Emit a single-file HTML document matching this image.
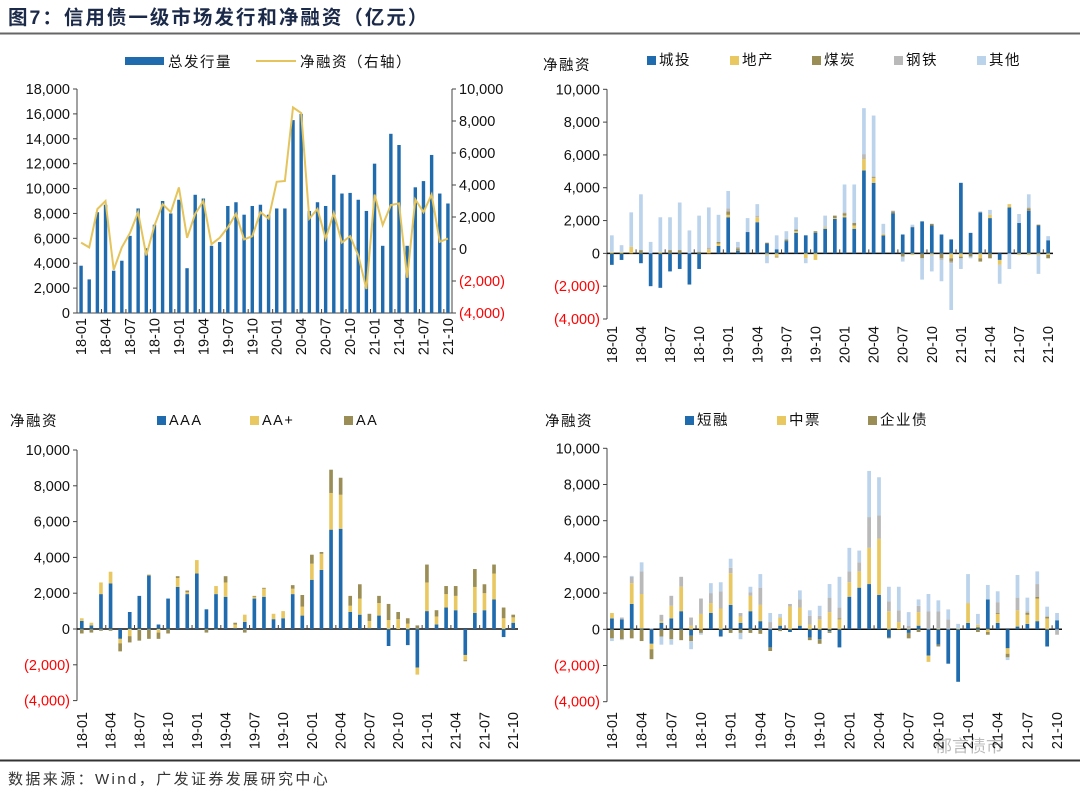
<!DOCTYPE html>
<html><head><meta charset="utf-8">
<style>
html,body{margin:0;padding:0;background:#fff;}
svg{display:block;font-family:"Liberation Sans","Noto Sans CJK SC",sans-serif;}
</style></head>
<body>
<svg id="chart" width="1080" height="794" viewBox="0 0 1080 794">
<text x="8" y="24" font-size="19.5" font-weight="bold" letter-spacing="2" fill="#1c2a4a">图7：信用债一级市场发行和净融资（亿元）</text>
<line x1="0" y1="33.5" x2="1080" y2="33.5" stroke="#666" stroke-width="2"/>
<line x1="0" y1="760.5" x2="1080" y2="760.5" stroke="#333" stroke-width="2"/>
<text x="8" y="784" font-size="15" letter-spacing="2.4" fill="#333">数据来源：Wind，广发证券发展研究中心</text>
<text x="935" y="752" font-size="17" fill="#bbb">郁言债市</text>
<g id="layer"></g>
</svg>
<script>
// ---------- data ----------
const months = ["18-01","18-02","18-03","18-04","18-05","18-06","18-07","18-08","18-09","18-10","18-11","18-12","19-01","19-02","19-03","19-04","19-05","19-06","19-07","19-08","19-09","19-10","19-11","19-12","20-01","20-02","20-03","20-04","20-05","20-06","20-07","20-08","20-09","20-10","20-11","20-12","21-01","21-02","21-03","21-04","21-05","21-06","21-07","21-08","21-09","21-10"];
// Panel 1 (亿元)
const totalIssue = [3800,2700,8100,8700,3400,4200,6200,8400,5200,7100,9000,8000,9100,3600,9500,9200,5400,5700,8600,8900,7900,8600,8700,7900,8400,8400,15500,16000,8200,8900,8600,11100,9600,9650,9100,8200,12000,5400,14400,13500,5400,10100,10600,12700,9600,8800];
const netFinance = [400,100,2500,3000,-1300,100,1000,2300,-400,1450,2800,2300,3850,700,2200,3000,300,700,1350,2200,600,800,2300,1900,4200,4250,8850,8500,1900,2500,650,2250,400,800,-400,-2500,3400,1500,2750,2850,-1800,3100,2300,3400,450,650];
// Panel 2: by industry
const chengtou = [-700,-400,0,-600,-2000,-2100,-1100,-950,-1900,-950,0,450,2200,150,1300,1900,600,250,750,1250,1100,1250,1500,2100,2200,1500,5050,4300,1100,2450,1150,1600,1950,1700,1150,850,4300,1250,2500,2150,-400,2800,1850,2600,1700,800];
const dichan = [100,100,400,0,0,100,0,0,0,0,250,150,150,0,0,300,-100,-200,0,100,-300,-400,100,50,100,200,700,300,100,0,0,-100,0,-100,0,-300,-200,0,-300,200,-300,200,-100,-100,-100,-100];
const meitan = [0,0,0,200,0,0,200,200,0,100,0,100,200,150,0,0,50,-50,100,100,0,100,0,150,150,150,0,50,0,100,-200,0,-300,100,-300,-200,-100,-200,-200,-300,0,0,0,150,50,-200];
const gangtie = [0,0,0,0,0,0,0,0,0,0,100,0,200,100,0,100,0,0,0,0,0,0,0,0,50,0,300,50,0,50,0,50,0,0,-100,-100,0,0,50,0,0,0,0,50,0,0];
const qita = [1000,400,2100,3400,700,2100,2000,2900,1400,2200,2450,1650,1050,300,850,700,-500,850,500,750,-300,0,700,0,1700,2350,2800,3700,600,0,-300,100,-1300,-1000,-1300,-2850,-650,-100,0,300,-1150,-950,550,800,-1150,250];
// Panel 3: by rating
const ratingAAA = [450,200,1950,2550,-550,950,1850,3000,250,1700,2350,1950,3100,1100,1950,1800,50,400,1700,1800,550,600,1950,750,2750,3300,5550,5600,950,800,50,750,-950,0,-900,-2150,1000,250,1200,1050,-1450,900,1050,1650,-450,350];
const ratingAAplus = [150,150,650,650,-250,-400,-50,50,-200,0,500,100,750,0,450,800,200,400,100,450,300,400,300,500,900,900,2050,1900,350,900,400,700,500,550,300,-400,1600,450,750,800,-300,1450,950,1450,600,300];
const ratingAA = [-250,-200,-100,-100,-450,-350,-600,-550,-350,-250,100,100,0,-200,-50,350,100,-200,50,50,0,0,200,650,500,100,1300,950,550,800,400,400,900,400,300,200,1000,350,450,550,-50,1000,500,500,600,150];
// Panel 4: by instrument
const duanrong = [600,550,1400,50,-800,350,600,1000,-350,0,900,-400,1350,350,1000,450,-1000,200,-150,200,-450,-550,-100,-1000,1800,2300,2500,1900,-450,0,-200,200,-1450,-850,-1900,-2900,350,100,1650,350,-1050,150,300,450,-950,500];
const zhongpiao = [300,0,1150,1900,-300,100,700,1350,200,850,550,1150,1750,350,850,900,0,450,1250,1000,250,550,950,550,800,900,2000,3100,1000,400,50,750,-350,50,0,50,1100,150,-150,500,-300,900,500,1250,600,0];
const qiyezhai = [-500,-550,-500,-650,-550,-400,-550,-600,-300,-200,0,0,-200,-200,-200,-250,-200,-100,0,0,-150,-250,-100,50,0,0,0,0,-50,0,-300,-150,0,-100,0,0,0,-150,-150,50,-200,0,100,100,100,0];
const gongsizhai = [0,100,350,1250,50,350,550,550,450,850,550,950,300,200,200,950,400,0,150,450,500,200,800,600,600,500,1700,1300,550,650,150,350,1000,950,550,0,0,0,0,600,0,700,100,700,0,-300];
const qitaP4 = [-150,-50,50,500,0,-450,-300,0,-450,-100,550,500,500,-350,300,750,500,200,0,500,300,550,750,1700,1300,650,2550,2100,800,1300,750,350,950,600,550,250,1600,600,800,600,-150,1250,750,700,550,400];

const C = {blue:"#1f6bad", yellow:"#e9c862", olive:"#9a8d55", gray:"#b9b9b9", light:"#bcd3ec", line:"#e5c45c"};
const NS = "http://www.w3.org/2000/svg";
const layer = document.getElementById("layer");
function el(tag, attrs, parent){ const e=document.createElementNS(NS,tag); for(const k in attrs) e.setAttribute(k,attrs[k]); (parent||layer).appendChild(e); return e; }
function fmt(v){ const s=Math.abs(v).toLocaleString("en-US"); return v<0?"("+s+")":s; }

function axes(p){
  const g = el("g",{});
  
  
  el("line",{x1:p.x0,y1:p.y(p.vmax),x2:p.x0,y2:p.y(p.vmin),stroke:"#444","stroke-width":1},g);
  p.ticks.forEach(v=>{
    el("line",{x1:p.x0-4,y1:p.y(v),x2:p.x0,y2:p.y(v),stroke:"#444"},g);
    const t=el("text",{x:p.x0-7,y:p.y(v)+5,"font-size":14.5,"text-anchor":"end",fill:v<0?"#ff0000":"#111"},g);
    t.textContent=fmt(v);
    
    
  });
  const by = p.y(p.base);
  el("line",{x1:p.x0,y1:by,x2:p.x1,y2:by,stroke:p.base===0&&p.vmin<0?"#111":"#444","stroke-width":p.vmin<0?1.5:1},g);
  const bw=(p.x1-p.x0)/months.length;
  months.forEach((m,i)=>{
    if(i%3===2) el("line",{x1:p.x0+(i+1)*bw,y1:by,x2:p.x0+(i+1)*bw,y2:by-4,stroke:"#444"},g);
    if(i%3===0){
      const cx=p.x0+(i+0.5)*bw+5;
      const t=el("text",{x:0,y:0,"font-size":14.5,"text-anchor":"end",fill:"#111",transform:`translate(${cx},${p.labelY}) rotate(-90)`},g);
      t.textContent=m;
      
      
    }
  });
  return bw;
}

function stacked(p, series, colors, names){
  const bw = axes(p);
  const w = bw*0.38;
  months.forEach((m,i)=>{
    let pos=0, neg=0;
    const cx=p.x0+(i+0.5)*bw;
    series.forEach((s,k)=>{
      const v=s[i]; if(!v) return;
      let a,b;
      if(v>0){a=pos;b=pos+v;pos=b;} else {a=neg;b=neg+v;neg=b;}
      const y1=p.y(Math.max(a,b)), y2=p.y(Math.min(a,b));
      const r=el("rect",{x:cx-w/2,y:y1,width:w,height:Math.max(0.5,y2-y1),fill:colors[k]});
      
      
    });
  });
}

function legend(items, y){
  items.forEach(it=>{
    const r=el("rect",{x:it.x,y:y-9,width:9,height:9,fill:it.c});
    
    
    const t=el("text",{x:it.x+12,y:y,"font-size":14.5,"letter-spacing":1.5,fill:"#111"});
    t.textContent=it.t;
    
    
  });
}
function label(x,y,s,name){ const t=el("text",{x:x,y:y,"font-size":14.5,"letter-spacing":1.5,fill:"#111"}); t.textContent=s;   }

// ---------- Panel 1 ----------
(function(){
  const p={name:"panel1",x0:77,x1:452,vmax:18000,vmin:0,base:0,labelY:318,ticks:[0,2000,4000,6000,8000,10000,12000,14000,16000,18000]};
  p.y=v=>89+(18000-v)*224/18000;
  const yr=v=>89+(10000-v)*224/14000;
  const bw=axes(p);
  el("line",{x1:p.x1,y1:89,x2:p.x1,y2:313,stroke:"#444"});
  [-4000,-2000,0,2000,4000,6000,8000,10000].forEach(v=>{
    el("line",{x1:p.x1,y1:yr(v),x2:p.x1+4,y2:yr(v),stroke:"#444"});
    const t=el("text",{x:p.x1+7,y:yr(v)+5,"font-size":14.5,fill:v<0?"#ff0000":"#111"});
    t.textContent=fmt(v);
    
    
  });
  totalIssue.forEach((v,i)=>{
    const cx=p.x0+(i+0.5)*bw;
    const r=el("rect",{x:cx-1.7,y:p.y(v),width:3.4,height:p.y(0)-p.y(v),fill:C.blue});
    
    
  });
  const pts=netFinance.map((v,i)=>(p.x0+(i+0.5)*bw).toFixed(1)+","+yr(v).toFixed(1)).join(" ");
  const pl=el("polyline",{points:pts,fill:"none",stroke:C.line,"stroke-width":2});
  
  
  const r=el("rect",{x:125,y:57,width:39,height:8,fill:C.blue});  
  label(168,67,"总发行量","legend-entry");
  const l=el("line",{x1:256,y1:61,x2:296,y2:61,stroke:C.line,"stroke-width":2});  
  label(300,67,"净融资（右轴）","legend-entry");
})();

// ---------- Panel 2 ----------
(function(){
  const p={name:"panel2",x0:607,x1:1053,vmax:10000,vmin:-4000,base:0,labelY:326,ticks:[-4000,-2000,0,2000,4000,6000,8000,10000]};
  p.y=v=>89.3+(10000-v)*229.7/14000;
  stacked(p,[chengtou,dichan,meitan,gangtie,qita],[C.blue,C.yellow,C.olive,C.gray,C.light],["chengtou","dichan","meitan","gangtie","qita"]);
  label(543,70,"净融资","y-axis-title");
  legend([{x:647,t:"城投",c:C.blue},{x:730,t:"地产",c:C.yellow},{x:812,t:"煤炭",c:C.olive},{x:894,t:"钢铁",c:C.gray},{x:977,t:"其他",c:C.light}],65);
})();

// ---------- Panel 3 ----------
(function(){
  const p={name:"panel3",x0:77,x1:518,vmax:10000,vmin:-4000,base:0,labelY:712,ticks:[-4000,-2000,0,2000,4000,6000,8000,10000]};
  p.y=v=>450+(10000-v)*250.6/14000;
  stacked(p,[ratingAAA,ratingAAplus,ratingAA],[C.blue,C.yellow,C.olive],["aaa","aa-plus","aa"]);
  label(10,426,"净融资","y-axis-title");
  legend([{x:157,t:"AAA",c:C.blue},{x:250,t:"AA+",c:C.yellow},{x:344,t:"AA",c:C.olive}],425);
})();

// ---------- Panel 4 ----------
(function(){
  const p={name:"panel4",x0:607,x1:1062,vmax:10000,vmin:-4000,base:0,labelY:712,ticks:[-4000,-2000,0,2000,4000,6000,8000,10000]};
  p.y=v=>448.3+(10000-v)*253.4/14000;
  stacked(p,[duanrong,zhongpiao,qiyezhai,gongsizhai,qitaP4],[C.blue,C.yellow,C.olive,C.gray,C.light],["duanrong","zhongpiao","qiyezhai","gongsizhai","qita"]);
  label(545,426,"净融资","y-axis-title");
  legend([{x:685,t:"短融",c:C.blue},{x:777,t:"中票",c:C.yellow},{x:868,t:"企业债",c:C.olive}],425);
})();
</script>
</body></html>
